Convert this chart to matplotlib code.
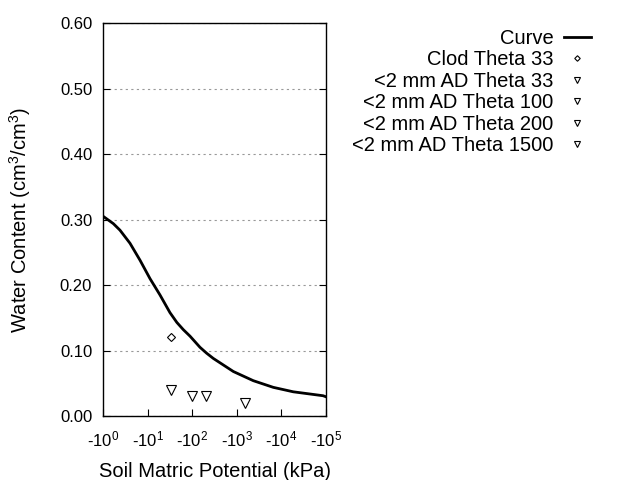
import numpy as np
import matplotlib
matplotlib.use("Agg")
import matplotlib.pyplot as plt
from matplotlib.ticker import FixedLocator, FuncFormatter, NullLocator

plt.rcParams['font.family'] = ['Liberation Sans', 'DejaVu Sans']
plt.rcParams['mathtext.fontset'] = 'custom'
plt.rcParams['mathtext.rm'] = 'Liberation Sans'
plt.rcParams['mathtext.it'] = 'Liberation Sans:italic'
plt.rcParams['mathtext.bf'] = 'Liberation Sans:bold'

# water retention curve (kPa, cm3/cm3)
curve_kpa = [-1, -1.68, -2.37, -3.98, -6.7, -11.2, -18.8, -31.5, -45, -62.8,
             -89, -149, -210, -297, -838, -2350, -6620, -18600, -87000, -100000]
curve_theta = [0.305, 0.294, 0.284, 0.264, 0.238, 0.210, 0.185, 0.158, 0.143,
               0.132, 0.122, 0.105, 0.096, 0.088, 0.068, 0.054, 0.0438, 0.037,
               0.031, 0.0295]

clod_kpa = [-33]
clod_theta = [0.12]

ad_labels = ['<2 mm AD Theta 33', '<2 mm AD Theta 100',
             '<2 mm AD Theta 200', '<2 mm AD Theta 1500']
ad_kpa = [-33, -100, -200, -1500]
ad_theta = [0.04, 0.03, 0.03, 0.02]

fig = plt.figure(figsize=(6.4, 4.8), dpi=100)
ax = fig.add_axes([0.1614, 0.1333, 0.3476, 0.818])

ax.plot(-np.array(curve_kpa), curve_theta, color='black', lw=2, label='Curve')
ax.plot(-np.array(clod_kpa), clod_theta, ls='none', marker='D', ms=4,
        mfc='none', mec='black', mew=0.8, label='Clod Theta 33')
for lab, k, t in zip(ad_labels, ad_kpa, ad_theta):
    ax.plot([-k], [t], ls='none', marker='v', ms=7, mfc='none', mec='black',
            mew=0.8, label=lab)

ax.set_xscale('log')
ax.set_xlim(1, 1e5)
ax.set_ylim(0, 0.6)
ax.xaxis.set_major_locator(FixedLocator([10.0 ** i for i in range(6)]))
ax.xaxis.set_minor_locator(NullLocator())
ax.xaxis.set_major_formatter(FuncFormatter(lambda v, p: r'-10$^{%d}$' % round(np.log10(v))))
ax.set_yticks(np.arange(0, 0.61, 0.1))
ax.yaxis.set_major_formatter(FuncFormatter(lambda v, p: '%.2f' % v))
ax.grid(axis='y', ls=(0, (2, 3)), color='#999999', lw=0.8)
ax.tick_params(direction='in', length=5, labelsize=12, top=False, right=True, pad=8)
ax.tick_params(axis='x', pad=10)
for s in ax.spines.values():
    s.set_linewidth(1)

ax.set_xlabel('Soil Matric Potential (kPa)', fontsize=14.5, labelpad=9)
ax.set_ylabel('Water Content (cm$^3$/cm$^3$)', fontsize=14.5, labelpad=19)

fig.legend(loc='upper right', bbox_to_anchor=(591 / 640, 1 - 29 / 480),
           frameon=False, markerfirst=False, fontsize=14.5, labelspacing=0.12,
           handlelength=1.35, handletextpad=0.5, borderpad=0, borderaxespad=0,
           markerscale=0.7)

fig.savefig('out.png', dpi=100)
